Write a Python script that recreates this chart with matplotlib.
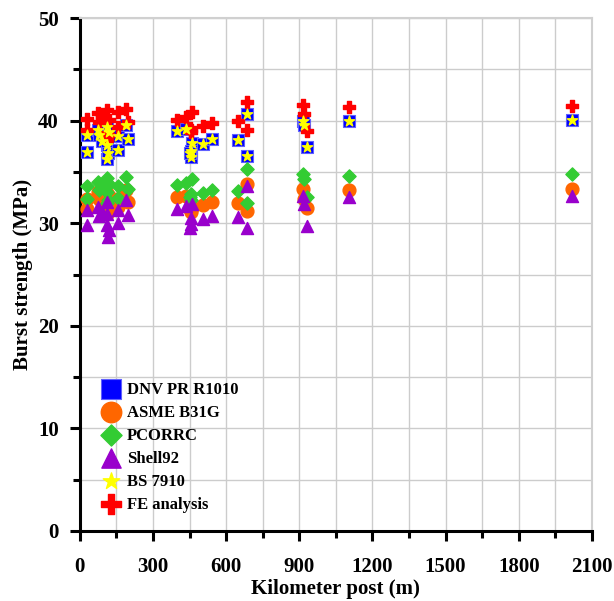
import numpy as np
import matplotlib.pyplot as plt
from matplotlib.ticker import MultipleLocator

plt.rcParams['font.family'] = ['Liberation Serif', 'DejaVu Serif']
plt.rcParams['font.weight'] = 'bold'

# kilometer post of each defect (m)
km = [28, 28, 75, 80, 90, 110, 112, 112, 115, 120, 155, 158, 190, 197,
      400, 435, 458, 455, 455, 453, 506, 544, 648, 686, 686,
      915, 920, 930, 1103, 2018]

dnv = [38.6, 36.9, 39.1, 38.6, 38.0, 39.4, 37.6, 36.3, 36.8, 38.9, 38.5, 37.1, 39.6, 38.2,
       39.0, 39.2, 37.8, 37.0, 36.5, 36.8, 37.7, 38.2, 38.1, 40.6, 36.6,
       40.0, 39.6, 37.4, 40.0, 40.1]
asme = [32.4, 31.4, 33.0, 32.4, 32.0, 32.9, 31.6, 30.9, 31.2, 32.7, 32.4, 31.6, 33.2, 32.1,
        32.6, 32.7, 31.6, 31.1, 31.3, 31.4, 31.8, 32.1, 32.0, 33.8, 31.2,
        33.3, 32.4, 31.5, 33.2, 33.3]
pcorrc = [33.6, 32.4, 34.0, 33.2, 33.6, 34.4, 33.0, 32.0, 32.3, 33.8, 33.6, 32.5, 34.5, 33.3,
          33.7, 33.9, 34.3, 32.8, 32.3, 32.6, 32.9, 33.2, 33.1, 35.3, 32.0,
          34.8, 34.3, 32.6, 34.6, 34.8]
shell = [31.3, 29.8, 31.6, 30.7, 31.1, 32.1, 30.9, 29.8, 28.7, 29.3, 31.3, 30.0, 32.3, 30.8,
         31.4, 31.7, 31.9, 30.5, 29.9, 29.5, 30.4, 30.7, 30.6, 33.6, 29.5,
         32.7, 31.9, 29.7, 32.6, 32.7]
bs = [38.6, 36.9, 39.1, 38.6, 38.0, 39.4, 37.6, 36.3, 36.8, 38.9, 38.5, 37.1, 39.6, 38.2,
      39.0, 39.2, 37.8, 37.0, 36.5, 36.8, 37.7, 38.2, 38.1, 40.6, 36.6,
      40.0, 39.6, 37.4, 40.0, 40.1]
fe = [40.2, 39.1, 40.7, 39.9, 40.4, 41.0, 38.8, 38.1, 38.6, 40.1, 40.8, 39.4, 41.1, 39.9,
      40.1, 40.4, 40.8, 39.1, 38.9, 39.3, 39.5, 39.8, 40.0, 41.8, 39.1,
      41.5, 40.6, 39.0, 41.3, 41.4]

fig = plt.figure(figsize=(6.14, 6.01), dpi=100)
ax = fig.add_axes([0.130, 0.1165, 0.834, 0.8535])

ax.scatter(km, dnv, marker='s', s=85, color='#0000ff', edgecolor='#6060ff', linewidth=0.8,
           label='DNV PR R1010', zorder=3)
ax.scatter(km, asme, marker='o', s=85, color='#ff6600', label='ASME B31G', zorder=3)
ax.scatter(km, pcorrc, marker='D', s=45, color='#33cc33', label='PCORRC', zorder=3)
ax.scatter(km, shell, marker='^', s=75, color='#9900cc', label='Shell92', zorder=3)
ax.scatter(km, bs, marker='*', s=60, color='#ffff00', label='BS 7910', zorder=4)
ax.scatter(km, fe, marker='P', s=75, color='#ff0000', label='FE analysis', zorder=3)

ax.set_xlim(0, 2100)
ax.set_ylim(0, 50)
ax.xaxis.set_major_locator(MultipleLocator(300))
ax.xaxis.set_minor_locator(MultipleLocator(150))
ax.yaxis.set_major_locator(MultipleLocator(10))
ax.yaxis.set_minor_locator(MultipleLocator(5))
ax.grid(which='both', color='#cccccc', linewidth=1.0, zorder=0)
ax.set_axisbelow(True)

for side in ['left', 'bottom']:
    ax.spines[side].set_linewidth(2.2)
    ax.spines[side].set_color('black')
for side in ['top', 'right']:
    ax.spines[side].set_linewidth(1.5)
    ax.spines[side].set_color('#d0d0d0')

ax.tick_params(which='major', direction='out', length=7, width=2.2, labelsize=15)
ax.tick_params(axis='x', which='major', pad=12)
ax.tick_params(axis='y', which='major', pad=8)
ax.tick_params(which='minor', direction='out', length=5, width=2.2)
ax.tick_params(top=False, right=False, which='both')
for lab in ax.get_xticklabels() + ax.get_yticklabels():
    lab.set_fontweight('bold')

ax.set_xlabel('Kilometer post (m)', fontsize=15, fontweight='bold', labelpad=1)
ax.set_ylabel('Burst strength (MPa)', fontsize=15, fontweight='bold', labelpad=4)

leg = ax.legend(loc='upper left', bbox_to_anchor=(0.015, 0.32), frameon=False,
                markerscale=1.6, handletextpad=0.45, labelspacing=0.42,
                handlelength=1.0, prop={'weight': 'bold', 'size': 12})

fig.savefig('out.png', dpi=100)
